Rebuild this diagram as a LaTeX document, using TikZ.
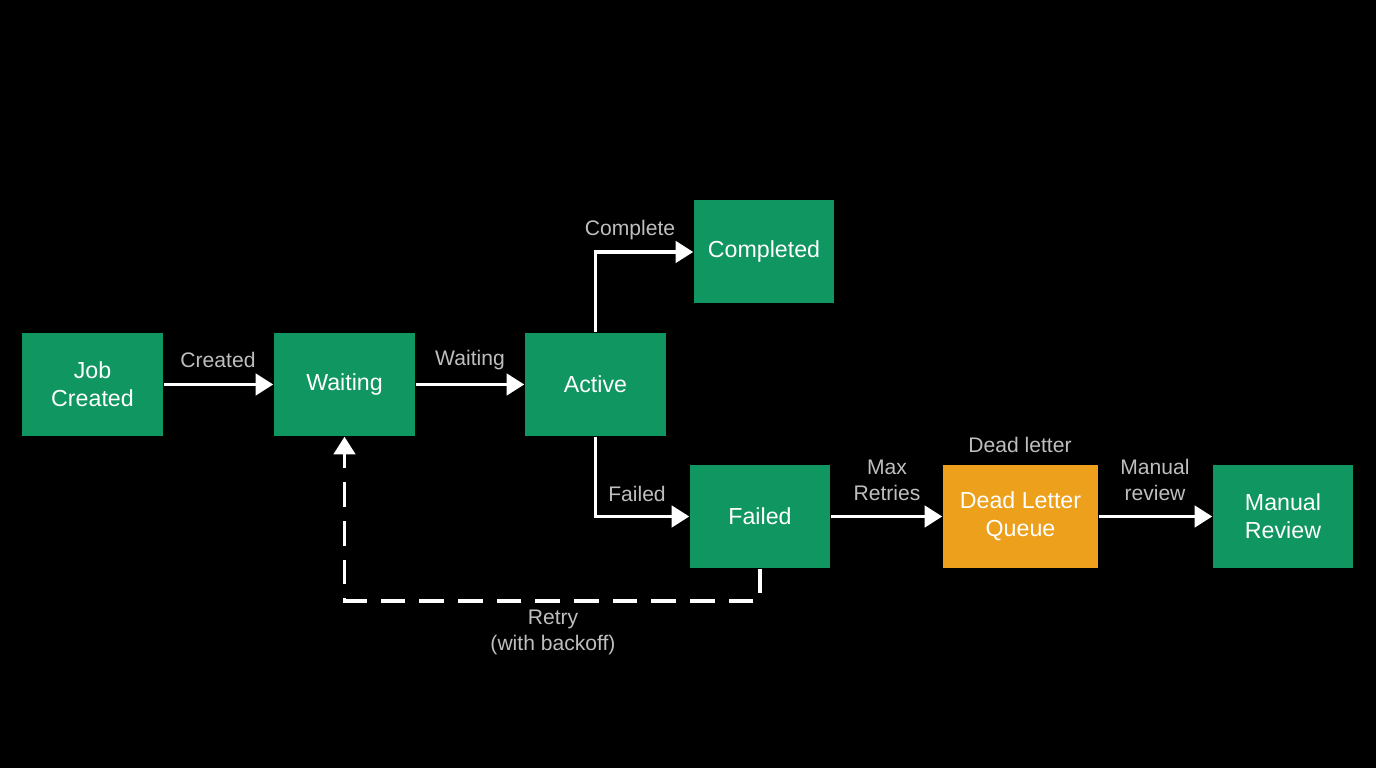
\documentclass[tikz,border=0pt]{standalone}
\usepackage{fontspec}
\setmainfont{Liberation Sans}
\usetikzlibrary{arrows.meta}
\definecolor{boxgreen}{RGB}{16,150,96}
\definecolor{boxorange}{RGB}{236,160,28}
\definecolor{labelgray}{RGB}{190,190,190}
\tikzset{
  state/.style={fill=boxgreen, text=white, minimum width=1.41cm, minimum height=1.03cm,
    align=center, font=\fontsize{6.6}{8}\selectfont, inner sep=0pt},
  flow/.style={draw=white, line width=1.1pt, -{Triangle[length=5pt,width=6pt]}},
  lbl/.style={text=labelgray, font=\fontsize{6}{7.4}\selectfont, align=center}
}
\begin{document}
\begin{tikzpicture}
  % background and frame
  \fill[black] (0,0) rectangle (13.76,7.68);
  \useasboundingbox (0,0) rectangle (13.76,7.68);

  % states
  \node[state] (job) at (0.925,3.835) {Job\\Created};
  \node[state] (waiting) at (3.445,3.835) {Waiting};
  \node[state] (active) at (5.955,3.835) {Active};
  \node[state, minimum width=1.40cm] (completed) at (7.64,5.16) {Completed};
  \node[state, minimum width=1.40cm] (failed) at (7.60,2.515) {Failed};
  \node[state, fill=boxorange, minimum width=1.55cm] (dlq) at (10.205,2.515) {Dead Letter\\Queue};
  \node[state, minimum width=1.40cm] (review) at (12.83,2.515) {Manual\\Review};

  % transitions
  \draw[flow] (job) -- (waiting);
  \draw[flow] (waiting) -- (active);
  \draw[flow] (active.north) |- (completed.west);
  \draw[flow] (active.south) |- (failed.west);
  \draw[flow] (failed) -- (dlq);
  \draw[flow] (dlq) -- (review);
  \draw[flow, dashed, dash pattern=on 7pt off 4pt] (failed.south) -- ++(0,-0.32) -| (waiting.south);

  % labels
  \node[lbl] (lcreated) at (2.18,4.08) {Created};
  \node[lbl] (lwaiting) at (4.70,4.08) {Waiting};
  \node[lbl] (lcomplete) at (6.30,5.38) {Complete};
  \node[lbl] (lfailed) at (6.37,2.74) {Failed};
  \node[lbl] (lmax) at (8.87,2.88) {Max\\Retries};
  \node[lbl] (ldead) at (10.20,3.23) {Dead letter};
  \node[lbl] (lmanual) at (11.55,2.88) {Manual\\review};
  \node[lbl] (lretry) at (5.53,1.36) {Retry\\(with backoff)};
\end{tikzpicture}
\end{document}
